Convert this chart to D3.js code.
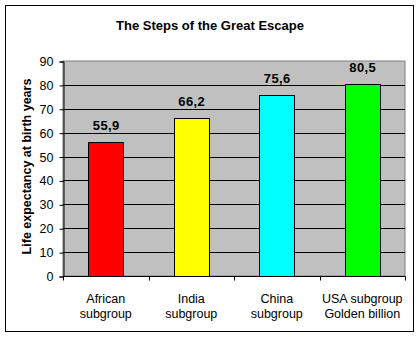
<!DOCTYPE html>
<html>
<head>
<meta charset="utf-8">
<script src="https://cdn.jsdelivr.net/npm/d3@7"></script>
<style>
  html, body { margin: 0; padding: 0; background: #fff; }
  svg { display: block; font-family: Arial, "Liberation Sans", sans-serif; }
</style>
</head>
<body>
<svg id="chart" width="420" height="338"></svg>
<script>
// Life expectancy at birth by subgroup
const categories = [
  ["African", "subgroup"],
  ["India", "subgroup"],
  ["China", "subgroup"],
  ["USA subgroup", "Golden billion"]
];
const values = [55.9, 66.2, 75.6, 80.5];
const barColors = ["#ff0000", "#ffff00", "#00ffff", "#00ff00"];
const yTicks = [0, 10, 20, 30, 40, 50, 60, 70, 80, 90];

const svg = d3.select("#chart");
const plot = { left: 63, right: 405, top: 61, bottom: 276 };

// outer frame
svg.append("rect")
  .attr("x", 5.5).attr("y", 5.5)
  .attr("width", 408).attr("height", 326)
  .attr("fill", "#fff").attr("stroke", "#000").attr("stroke-width", 1);

svg.append("text")
  .attr("x", 210).attr("y", 29.5)
  .attr("text-anchor", "middle")
  .attr("font-size", 13).attr("font-weight", "bold")
  .text("The Steps of the Great Escape");

const x = d3.scaleBand()
  .domain(d3.range(categories.length))
  .range([plot.left, plot.right])
  .paddingInner(0.59).paddingOuter(0.295);

const xOuter = d3.scaleBand()
  .domain(d3.range(categories.length))
  .range([plot.left, plot.right]);

const y = d3.scaleLinear().domain([0, 90]).range([plot.bottom, plot.top]);

// plot background
svg.append("rect")
  .attr("x", plot.left).attr("y", plot.top)
  .attr("width", plot.right - plot.left).attr("height", plot.bottom - plot.top)
  .attr("fill", "#c0c0c0").attr("stroke", "#808080").attr("stroke-width", 1);

// horizontal gridlines
svg.append("g").selectAll("line")
  .data(yTicks.filter(t => t > 0 && t < 90))
  .join("line")
  .attr("x1", plot.left).attr("x2", plot.right)
  .attr("y1", d => Math.round(y(d)) + 0.5).attr("y2", d => Math.round(y(d)) + 0.5)
  .attr("stroke", "#000").attr("stroke-width", 1);

// bars
svg.append("g").selectAll("rect")
  .data(values)
  .join("rect")
  .attr("x", (d, i) => Math.round(x(i)) + 0.5)
  .attr("y", d => Math.round(y(d)) + 0.5)
  .attr("width", Math.round(x.bandwidth()))
  .attr("height", d => Math.round(y(0)) - Math.round(y(d)))
  .attr("fill", (d, i) => barColors[i])
  .attr("stroke", "#000").attr("stroke-width", 1);

// value labels
svg.append("g").selectAll("text")
  .data(values)
  .join("text")
  .attr("x", (d, i) => x(i) + x.bandwidth() / 2 + 0.5)
  .attr("y", d => y(d) - 12)
  .attr("text-anchor", "middle")
  .attr("font-size", 13).attr("font-weight", "bold")
  .attr("letter-spacing", 0.4)
  .text(d => d3.format(".1f")(d).replace(".", ","));

// y axis
const yAxis = d3.axisLeft(y).tickValues(yTicks).tickSize(4).tickPadding(6);
const gy = svg.append("g")
  .attr("transform", `translate(${plot.left + 0.5},0.5)`)
  .call(yAxis);
gy.select(".domain").attr("stroke", "#000");
gy.selectAll(".tick line").attr("stroke", "#000");
gy.selectAll(".tick text")
  .attr("font-size", 12.5).attr("font-family", "Arial, 'Liberation Sans', sans-serif")
  .attr("fill", "#000");

// x axis
const gx = svg.append("g")
  .attr("transform", `translate(0,${plot.bottom + 0.5})`);
gx.append("line")
  .attr("x1", plot.left).attr("x2", plot.right + 0.5)
  .attr("stroke", "#000");
gx.selectAll("line.tick")
  .data(d3.range(categories.length + 1))
  .join("line").attr("class", "tick")
  .attr("x1", i => Math.round(i < categories.length ? xOuter(i) : plot.right) + 0.5)
  .attr("x2", i => Math.round(i < categories.length ? xOuter(i) : plot.right) + 0.5)
  .attr("y1", 0).attr("y2", 4)
  .attr("stroke", "#000");
const xl = gx.selectAll("text.cat")
  .data(categories)
  .join("text").attr("class", "cat")
  .attr("text-anchor", "middle")
  .attr("font-size", 12.5)
  .attr("transform", (d, i) => `translate(${xOuter(i) + xOuter.bandwidth() / 2},0)`);
xl.selectAll("tspan")
  .data(d => d)
  .join("tspan")
  .attr("x", 0)
  .attr("y", (d, j) => 26 + j * 15.5)
  .text(d => d);

// y axis title
svg.append("text")
  .attr("transform", `translate(30.5,${(plot.top + plot.bottom) / 2 - 2}) rotate(-90)`)
  .attr("text-anchor", "middle")
  .attr("font-size", 12.5).attr("font-weight", "bold")
  .text("Life expectancy at birth years");
</script>
</body>
</html>
